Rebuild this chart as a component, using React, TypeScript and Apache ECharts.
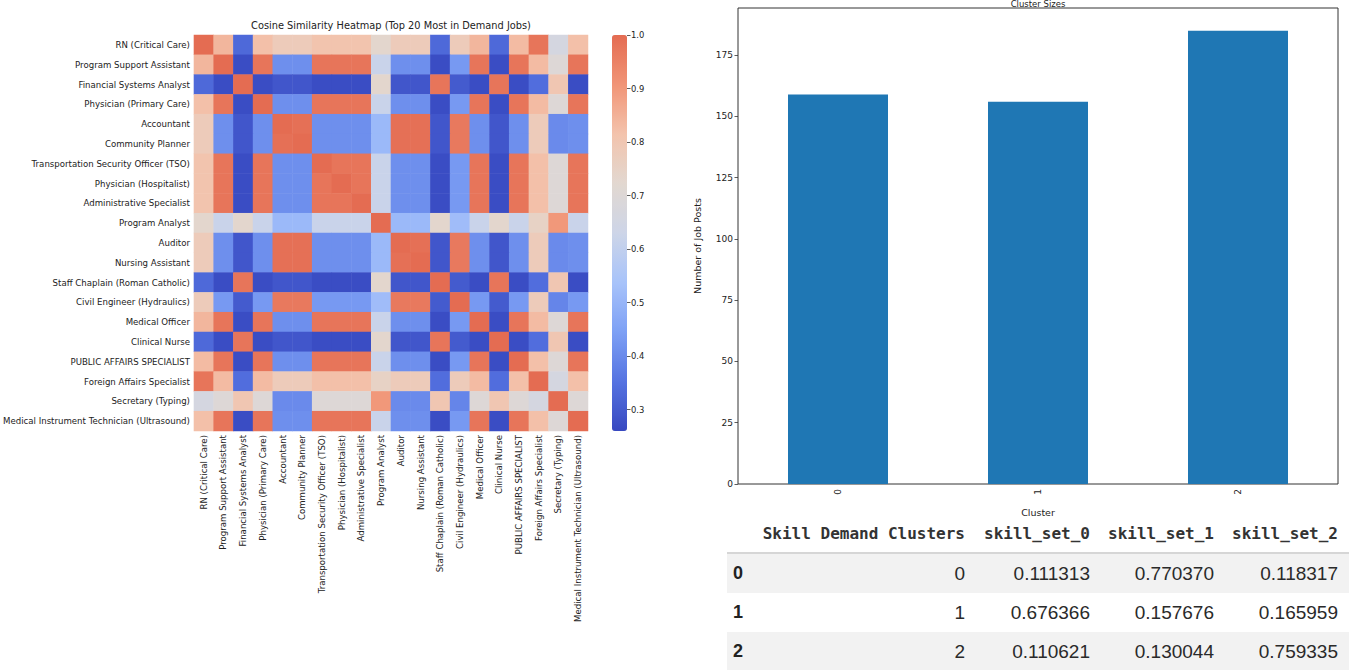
import React, { useEffect, useRef } from "react";
import * as echarts from "echarts";

const FONT = "DejaVu Sans";

const jobTitles = [
  "RN (Critical Care)",
  "Program Support Assistant",
  "Financial Systems Analyst",
  "Physician (Primary Care)",
  "Accountant",
  "Community Planner",
  "Transportation Security Officer (TSO)",
  "Physician (Hospitalist)",
  "Administrative Specialist",
  "Program Analyst",
  "Auditor",
  "Nursing Assistant",
  "Staff Chaplain (Roman Catholic)",
  "Civil Engineer (Hydraulics)",
  "Medical Officer",
  "Clinical Nurse",
  "PUBLIC AFFAIRS SPECIALIST",
  "Foreign Affairs Specialist",
  "Secretary (Typing)",
  "Medical Instrument Technician (Ultrasound)",
];

const simRN = [1.0, 0.84, 0.33, 0.82, 0.78, 0.78, 0.81, 0.81, 0.81, 0.73, 0.78, 0.78, 0.33, 0.78, 0.84, 0.33, 0.83, 0.98, 0.66, 0.82];
const simProgSupport = [0.84, 1.0, 0.27, 0.98, 0.41, 0.41, 0.98, 0.98, 0.98, 0.62, 0.41, 0.41, 0.27, 0.43, 0.98, 0.27, 0.98, 0.83, 0.7, 0.98];
const simFinSystems = [0.33, 0.27, 1.0, 0.27, 0.29, 0.29, 0.27, 0.27, 0.27, 0.73, 0.29, 0.29, 0.98, 0.3, 0.27, 0.98, 0.27, 0.34, 0.8, 0.27];
const simPhysPrimary = [0.82, 0.98, 0.27, 1.0, 0.41, 0.41, 0.98, 0.98, 0.98, 0.62, 0.41, 0.41, 0.27, 0.43, 0.98, 0.27, 0.98, 0.83, 0.7, 0.98];
const simAccountant = [0.78, 0.41, 0.29, 0.41, 1.0, 0.99, 0.41, 0.41, 0.41, 0.51, 0.99, 0.99, 0.29, 0.97, 0.41, 0.29, 0.41, 0.78, 0.4, 0.41];
const simCommPlanner = [0.78, 0.41, 0.29, 0.41, 0.99, 1.0, 0.41, 0.41, 0.41, 0.51, 0.99, 0.99, 0.29, 0.97, 0.41, 0.29, 0.41, 0.78, 0.4, 0.41];
const simTSO = [0.81, 0.98, 0.27, 0.98, 0.41, 0.41, 1.0, 0.98, 0.98, 0.62, 0.41, 0.41, 0.27, 0.43, 0.98, 0.27, 0.98, 0.82, 0.7, 0.98];
const simPhysHosp = [0.81, 0.98, 0.27, 0.98, 0.41, 0.41, 0.98, 1.0, 0.98, 0.62, 0.41, 0.41, 0.27, 0.43, 0.98, 0.27, 0.98, 0.82, 0.7, 0.98];
const simAdminSpec = [0.81, 0.98, 0.27, 0.98, 0.41, 0.41, 0.98, 0.98, 1.0, 0.62, 0.41, 0.41, 0.27, 0.43, 0.98, 0.27, 0.98, 0.82, 0.7, 0.98];
const simProgAnalyst = [0.73, 0.62, 0.73, 0.62, 0.51, 0.51, 0.62, 0.62, 0.62, 1.0, 0.51, 0.51, 0.73, 0.52, 0.62, 0.73, 0.62, 0.75, 0.9, 0.62];
const simAuditor = [0.78, 0.41, 0.29, 0.41, 0.99, 0.99, 0.41, 0.41, 0.41, 0.51, 1.0, 0.99, 0.29, 0.97, 0.41, 0.29, 0.41, 0.78, 0.4, 0.41];
const simNursingAsst = [0.78, 0.41, 0.29, 0.41, 0.99, 0.99, 0.41, 0.41, 0.41, 0.51, 0.99, 1.0, 0.29, 0.97, 0.41, 0.29, 0.41, 0.78, 0.4, 0.41];
const simChaplain = [0.33, 0.27, 0.98, 0.27, 0.29, 0.29, 0.27, 0.27, 0.27, 0.73, 0.29, 0.29, 1.0, 0.3, 0.27, 0.98, 0.27, 0.34, 0.8, 0.27];
const simCivilEng = [0.78, 0.43, 0.3, 0.43, 0.97, 0.97, 0.43, 0.43, 0.43, 0.52, 0.97, 0.97, 0.3, 1.0, 0.43, 0.3, 0.43, 0.78, 0.39, 0.43];
const simMedOfficer = [0.84, 0.98, 0.27, 0.98, 0.41, 0.41, 0.98, 0.98, 0.98, 0.62, 0.41, 0.41, 0.27, 0.43, 1.0, 0.27, 0.98, 0.83, 0.7, 0.98];
const simClinNurse = [0.33, 0.27, 0.98, 0.27, 0.29, 0.29, 0.27, 0.27, 0.27, 0.73, 0.29, 0.29, 0.98, 0.3, 0.27, 1.0, 0.27, 0.34, 0.8, 0.27];
const simPublicAffairs = [0.83, 0.98, 0.27, 0.98, 0.41, 0.41, 0.98, 0.98, 0.98, 0.62, 0.41, 0.41, 0.27, 0.43, 0.98, 0.27, 1.0, 0.82, 0.7, 0.98];
const simForeignAffairs = [0.98, 0.83, 0.34, 0.83, 0.78, 0.78, 0.82, 0.82, 0.82, 0.75, 0.78, 0.78, 0.34, 0.78, 0.83, 0.34, 0.82, 1.0, 0.66, 0.82];
const simSecretary = [0.66, 0.7, 0.8, 0.7, 0.4, 0.4, 0.7, 0.7, 0.7, 0.9, 0.4, 0.4, 0.8, 0.39, 0.7, 0.8, 0.7, 0.66, 1.0, 0.7];
const simMedInstTech = [0.82, 0.98, 0.27, 0.98, 0.41, 0.41, 0.98, 0.98, 0.98, 0.62, 0.41, 0.41, 0.27, 0.43, 0.98, 0.27, 0.98, 0.82, 0.7, 1.0];

const similarity = [
  simRN, simProgSupport, simFinSystems, simPhysPrimary, simAccountant,
  simCommPlanner, simTSO, simPhysHosp, simAdminSpec, simProgAnalyst,
  simAuditor, simNursingAsst, simChaplain, simCivilEng, simMedOfficer,
  simClinNurse, simPublicAffairs, simForeignAffairs, simSecretary, simMedInstTech,
];

const colorScaleMin = 0.26;
const colorScaleMax = 1.0;

const clusterLabels = ["0", "1", "2"];
const clusterSizes = [159, 156, 185];

const tableHeader = ["Skill Demand Clusters", "skill_set_0", "skill_set_1", "skill_set_2"];
const tableIndex = ["0", "1", "2"];
const tableClusters = ["0", "1", "2"];
const skillSet0 = ["0.111313", "0.676366", "0.110621"];
const skillSet1 = ["0.770370", "0.157676", "0.130044"];
const skillSet2 = ["0.118317", "0.165959", "0.759335"];

const coolwarm = [
  "#3748c0", "#5573e1", "#7da0f5", "#a8c3fa", "#cdd5e8",
  "#e2d8d0", "#f3c3ac", "#f19476", "#e46c52",
];

export default function App() {
  const ref = useRef<HTMLDivElement>(null);

  useEffect(() => {
    if (!ref.current) return;
    const chart = echarts.init(ref.current, undefined, { renderer: "svg" });

    const heatData: [number, number, number][] = [];
    similarity.forEach((row, i) => row.forEach((v, j) => heatData.push([j, i, v])));

    const tableCols = [965, 1090, 1214, 1338];
    const rowY = [573, 612, 651];
    const tableGraphics: any[] = [
      { type: "rect", shape: { x: 727, y: 553, width: 622, height: 40 }, style: { fill: "#f2f2f2" }, z: 0 },
      { type: "rect", shape: { x: 727, y: 632, width: 622, height: 40 }, style: { fill: "#f2f2f2" }, z: 0 },
      { type: "line", shape: { x1: 727, y1: 553, x2: 1349, y2: 553 }, style: { stroke: "#d6d6d6", lineWidth: 2 }, z: 1 },
    ];
    tableHeader.forEach((h, k) => {
      tableGraphics.push({
        type: "text", x: tableCols[k], y: 533, z: 2,
        style: { text: h, align: "right", verticalAlign: "middle", fontFamily: "DejaVu Sans Mono", fontWeight: "bold", fontSize: 16, fill: "#333" },
      });
    });
    const cols = [tableClusters, skillSet0, skillSet1, skillSet2];
    tableIndex.forEach((idx, r) => {
      tableGraphics.push({
        type: "text", x: 733, y: rowY[r], z: 2,
        style: { text: idx, align: "left", verticalAlign: "middle", fontFamily: "Liberation Sans", fontWeight: "bold", fontSize: 18, fill: "#222" },
      });
      cols.forEach((c, k) => {
        tableGraphics.push({
          type: "text", x: tableCols[k], y: rowY[r], z: 2,
          style: { text: c[r], align: "right", verticalAlign: "middle", fontFamily: "Liberation Sans", fontSize: 19, fill: "#2a2a2a" },
        });
      });
    });

    const tickStyle = { lineStyle: { color: "#333", width: 0.8 } };

    chart.setOption({
      animation: false,
      textStyle: { fontFamily: FONT },
      grid: [
        { left: 193, top: 35, width: 395, height: 396 },
        { left: 612, top: 35, width: 15, height: 396 },
        { left: 738, top: 8, width: 600, height: 476, show: true, borderColor: "#333", borderWidth: 1 },
      ],
      xAxis: [
        {
          type: "category", gridIndex: 0, data: jobTitles,
          axisLine: { show: false },
          axisTick: { alignWithLabel: true, length: 3.5, ...tickStyle },
          axisLabel: { rotate: 90, interval: 0, fontSize: 8.6, color: "#222", margin: 4, fontFamily: FONT },
          splitLine: { show: false },
        },
        { type: "category", gridIndex: 1, data: [""], show: false },
        {
          type: "category", gridIndex: 2, data: clusterLabels,
          axisLine: { show: false },
          axisTick: { alignWithLabel: true, length: 3.5, ...tickStyle },
          axisLabel: { rotate: 90, fontSize: 9, color: "#222", margin: 5, fontFamily: FONT },
          name: "Cluster", nameLocation: "middle", nameGap: 23,
          nameTextStyle: { fontSize: 9.5, color: "#222", fontFamily: FONT },
        },
      ],
      yAxis: [
        {
          type: "category", gridIndex: 0, data: jobTitles, inverse: true,
          axisLine: { show: false },
          axisTick: { alignWithLabel: true, length: 3.5, ...tickStyle },
          axisLabel: { interval: 0, fontSize: 8.6, color: "#222", margin: 4, fontFamily: FONT },
          splitLine: { show: false },
        },
        {
          type: "value", gridIndex: 1, position: "right",
          min: colorScaleMin, max: colorScaleMax, splitNumber: 7,
          axisLine: { show: false },
          axisTick: { show: true, length: 3.5, ...tickStyle },
          axisLabel: { showMinLabel: false, fontSize: 8.4, color: "#222", margin: 4, fontFamily: FONT, formatter: (v: number) => v.toFixed(1) },
          splitLine: { show: false },
        },
        {
          type: "value", gridIndex: 2, min: 0, max: 194.25, interval: 25,
          axisLine: { show: false },
          axisTick: { show: true, length: 3.5, ...tickStyle },
          axisLabel: { showMaxLabel: false, fontSize: 9, color: "#222", margin: 5, fontFamily: FONT },
          splitLine: { show: false },
          name: "Number of Job Posts", nameLocation: "middle", nameGap: 36,
          nameTextStyle: { fontSize: 9.5, color: "#222", fontFamily: FONT },
        },
      ],
      visualMap: {
        type: "continuous", seriesIndex: 0, min: colorScaleMin, max: colorScaleMax,
        show: true, calculable: false, orient: "vertical",
        left: 612, top: 35, itemWidth: 15, itemHeight: 396, padding: 0,
        inRange: { color: coolwarm },
        hoverLink: false,
      },
      series: [
        {
          type: "heatmap", xAxisIndex: 0, yAxisIndex: 0, data: heatData,
          itemStyle: { borderWidth: 0 },
          emphasis: { disabled: true },
          progressive: 0,
        },
        {
          type: "bar", xAxisIndex: 2, yAxisIndex: 2, data: clusterSizes,
          barWidth: "50%", itemStyle: { color: "#1f77b4" },
        },
      ],
      graphic: [
        {
          type: "text", x: 391, y: 25,
          style: { text: "Cosine Similarity Heatmap (Top 20 Most in Demand Jobs)", align: "center", verticalAlign: "middle", fontFamily: FONT, fontSize: 9.8, fill: "#222" },
        },
        {
          type: "text", x: 1038, y: 4,
          style: { text: "Cluster Sizes", align: "center", verticalAlign: "middle", fontFamily: FONT, fontSize: 8.5, fill: "#222" },
        },
        ...tableGraphics,
      ],
    });

    return () => chart.dispose();
  }, []);

  return (
    <div
      ref={ref}
      style={{ position: "fixed", left: 0, top: 0, width: 1349, height: 670, background: "#fff" }}
    />
  );
}
